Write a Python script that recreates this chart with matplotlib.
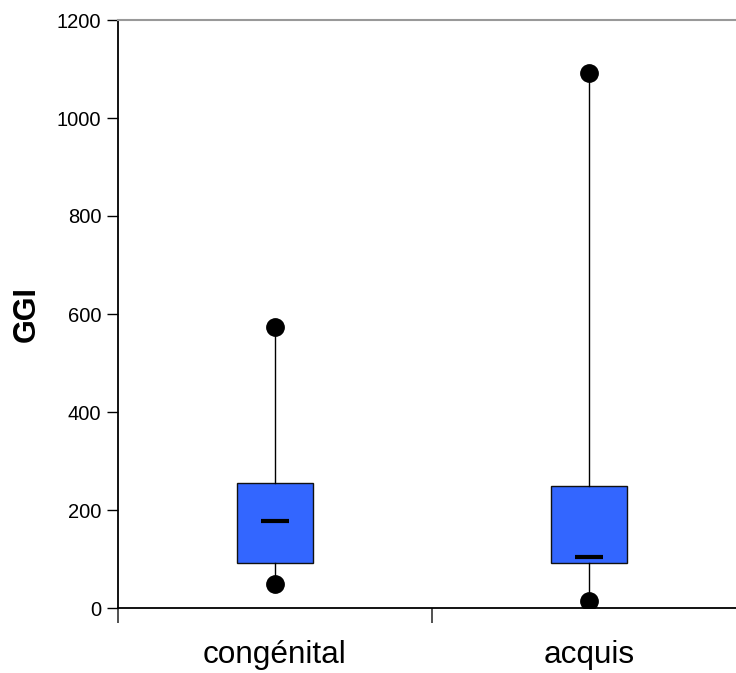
import matplotlib
matplotlib.use("Agg")
import matplotlib.pyplot as plt
import numpy as np

categories = ["congénital", "acquis"]
low_values = [49, 14]
q1_values = [92, 92]
median_values = [178, 104]
q3_values = [255, 248]
high_values = [573, 1092]
y_ticks = [0, 200, 400, 600, 800, 1000, 1200]

plt.rcParams['font.family'] = ['Liberation Sans', 'DejaVu Sans']

fig = plt.figure(figsize=(7.36, 6.73), dpi=100)
ax = fig.add_axes([118/736, 65/673, 628/736, 588/673])

positions = np.arange(1, len(categories) + 1)
stats = []
for i, c in enumerate(categories):
    stats.append(dict(label=c, whislo=low_values[i], q1=q1_values[i], med=median_values[i],
                      q3=q3_values[i], whishi=high_values[i],
                      fliers=[low_values[i], high_values[i]]))

ax.bxp(stats, positions=positions, widths=0.24, patch_artist=True, showcaps=False,
       boxprops=dict(facecolor='#3366FF', edgecolor='#111111', linewidth=1.0),
       whiskerprops=dict(color='black', linewidth=1.0),
       medianprops=dict(visible=False),
       flierprops=dict(marker='o', markerfacecolor='black', markeredgecolor='black', markersize=12.5),
       zorder=3)
ax.plot(positions, median_values, linestyle='none', marker='_', markersize=20,
        markeredgewidth=3, color='black', zorder=4)

ax.set_xlim(0.5, 2.5)
ax.set_ylim(0, 1200)
ax.set_yticks(y_ticks)
ax.set_yticklabels([str(v) for v in y_ticks], fontsize=14.5)
ax.set_xticks([0.5, 1.5, 2.5])
ax.set_xticklabels([])
ax.set_xticks(positions, minor=True)
ax.set_xticklabels(categories, minor=True, fontsize=22.7)
ax.tick_params(axis='x', which='major', direction='out', length=11, width=1.2, color='#333333')
ax.tick_params(axis='x', which='minor', length=0, pad=23)
ax.tick_params(axis='y', direction='out', length=8, width=1.0, pad=4)
ax.set_ylabel("GGI", fontsize=22, fontweight='bold', labelpad=11)

ax.spines['top'].set_color('#999999')
ax.spines['top'].set_linewidth(1.5)
ax.spines['left'].set_linewidth(1.3)
ax.spines['bottom'].set_linewidth(1.3)
ax.spines['right'].set_visible(False)

fig.savefig("out.png", dpi=100)
